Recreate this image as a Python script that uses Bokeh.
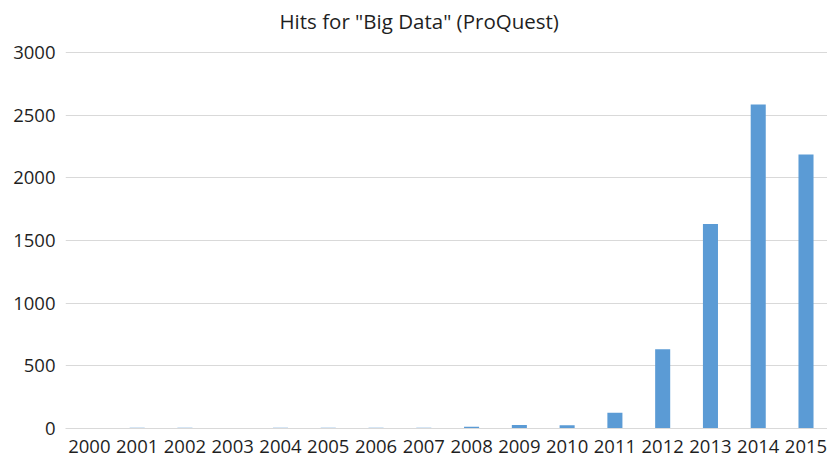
from bokeh.plotting import figure
from bokeh.models import Range1d, FixedTicker, Title, ColumnDataSource
from bokeh.embed import file_html
from bokeh.resources import INLINE

years = [2000, 2001, 2002, 2003, 2004, 2005, 2006, 2007,
         2008, 2009, 2010, 2011, 2012, 2013, 2014, 2015]
hits = [3, 5, 5, 4, 5, 5, 5, 6, 14, 28, 25, 125, 633, 1631, 2585, 2186]
y_ticks = [0, 500, 1000, 1500, 2000, 2500, 3000]
title_text = 'Hits for "Big Data" (ProQuest)'

FONT = "Open Sans"
TXT = "#1F1F1F"
GRID = "#D9D9D9"
BAR = "#5B9BD5"

src = ColumnDataSource(dict(year=years, hits=hits))

p = figure(frame_width=762, frame_height=377,
           x_range=Range1d(1999.5, 2015.45), y_range=Range1d(0, 3008),
           output_backend="svg", toolbar_location=None,
           min_border_left=65, min_border_right=0,
           min_border_top=51, min_border_bottom=31)
p.outline_line_color = None
p.background_fill_color = "white"
p.border_fill_color = "white"

p.vbar(x="year", top="hits", width=0.315, source=src,
       fill_color=BAR, line_color=None)

p.xgrid.grid_line_color = None
p.ygrid.grid_line_color = GRID
p.ygrid.grid_line_width = 1
p.yaxis.ticker = FixedTicker(ticks=y_ticks)
p.xaxis.ticker = FixedTicker(ticks=years)

for ax in (p.xaxis[0], p.yaxis[0]):
    ax.major_tick_line_color = None
    ax.minor_tick_line_color = None
    ax.major_label_text_font = FONT
    ax.major_label_text_font_size = "18.5px"
    ax.major_label_text_color = TXT
p.yaxis.axis_line_color = None
p.xaxis.axis_line_color = GRID
p.yaxis.major_label_standoff = 4
p.xaxis.major_label_standoff = 5

p.add_layout(Title(text=title_text + "\n", align="left", offset=214,
                   text_font=FONT, text_font_size="20.5px",
                   text_font_style="normal", text_color=TXT,
                   text_line_height=0.5, standoff=6,
                   vertical_align="bottom"), "above")

open("out.html", "w").write(file_html(p, INLINE))
